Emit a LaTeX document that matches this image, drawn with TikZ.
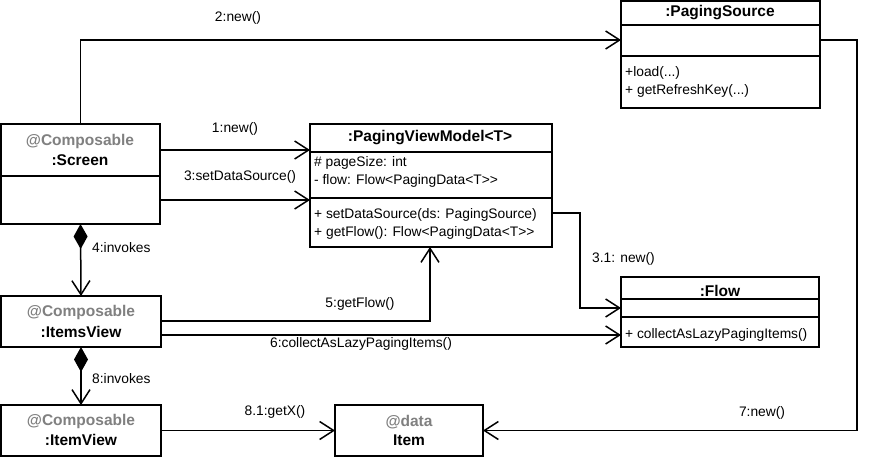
\documentclass[tikz,border=0pt]{standalone}
\usepackage{fontspec}
\setmainfont{Liberation Sans}
\usetikzlibrary{arrows.meta,calc}
\definecolor{stereo}{HTML}{808080}
% two closing angle brackets, kept apart so they are not merged into a guillemet
\newcommand{\gtgt}{>\kern0pt>}
\begin{document}
\begin{tikzpicture}[x=1pt,y=-1pt,
  box/.style={draw, line width=1.3pt, fill=white, inner sep=0pt, outer sep=0pt, anchor=north west},
  divider/.style={line width=1.3pt},
  title/.style={font=\fontsize{15.5}{17}\selectfont\bfseries, inner sep=0pt},
  stereotype/.style={title, text=stereo},
  member/.style={font=\fontsize{13.8}{16}\selectfont, inner sep=0pt, anchor=west},
  lbl/.style={font=\fontsize{13.8}{16}\selectfont, inner sep=0pt},
  conn/.style={line width=1.5pt, -{Straight Barb[length=14pt,width=18pt,line width=1.5pt]}},
  compose/.style={line width=1.5pt,
    {Diamond[length=25pt,width=14pt,fill=black]}-{Straight Barb[length=14pt,width=18pt,line width=1.5pt]}}
]
\useasboundingbox (0,0) rectangle (886,458);

% --- objects ---
\node[box, minimum width=159pt, minimum height=100pt] (screen) at (1,124) {};
\draw[divider] (1,176) -- (160,176);
\node[stereotype] (screenst) at (80,141) {@Composable};
\node[title] (screent) at (80,160) {:Screen};

\node[box, minimum width=242pt, minimum height=123pt] (pvm) at (310,124) {};
\draw[divider] (310,152) -- (552,152);
\draw[divider] (310,198) -- (552,198);
\node[title] (pvmt) at (430,138) {:PagingViewModel<T>};
\node[member] (pvm1) at (314,163) {\# pageSize: int};
\node[member] (pvm2) at (314,181) {- flow: Flow<PagingData<T\gtgt};
\node[member] (pvm3) at (314,215) {+ setDataSource(ds: PagingSource)};
\node[member] (pvm4) at (314,233) {+ getFlow(): Flow<PagingData<T\gtgt};

\node[box, minimum width=199pt, minimum height=107pt] (psrc) at (621,1) {};
\draw[divider] (621,25) -- (820,25);
\draw[divider] (621,56) -- (820,56);
\node[title] (psrct) at (720,13) {:PagingSource};
\node[member] (psrc1) at (625,73) {+load(...)};
\node[member] (psrc2) at (625,91) {+ getRefreshKey(...)};

\node[box, minimum width=198pt, minimum height=70pt] (flow) at (621,277) {};
\draw[divider] (621,299) -- (819,299);
\draw[divider] (621,317) -- (819,317);
\node[title] (flowt) at (720,291) {:Flow};
\node[member] (flow1) at (625,335) {+ collectAsLazyPagingItems()};

\node[box, minimum width=160pt, minimum height=51pt] (itemsv) at (1,296) {};
\node[stereotype] (itemsvst) at (81,312) {@Composable};
\node[title] (itemsvt) at (81,332) {:ItemsView};

\node[box, minimum width=160pt, minimum height=51pt] (itemv) at (1,405) {};
\node[stereotype] (itemvst) at (81,421) {@Composable};
\node[title] (itemvt) at (81,440) {:ItemView};

\node[box, minimum width=148pt, minimum height=51pt] (item) at (335,405) {};
\node[stereotype] (itemst) at (409,422) {@data};
\node[title] (itemt) at (409,440) {Item};

% --- messages ---
\draw[conn] (screen.north) |- ($(psrc.north west)+(0,39)$);
\node[lbl] at (238,18) {2:new()};

\draw[conn] ($(screen.north east)+(0,26)$) -- ($(pvm.north west)+(0,26)$);
\node[lbl] at (235,129) {1:new()};

\draw[conn] ($(screen.north east)+(0,76)$) -- ($(pvm.north west)+(0,76)$);
\node[lbl] at (240,177) {3:setDataSource()};

\draw[conn] ($(pvm.north east)+(0,89)$) -- ++(28,0) |- ($(flow.north west)+(0,31)$);
\node[lbl, anchor=west] at (592,259) {3.1: new()};

\draw[conn] ($(psrc.north east)+(0,39)$) -- ++(37,0) |- (item.east);
\node[lbl] at (762,413) {7:new()};

\draw[compose] (screen.south) -- (itemsv.north);
\node[lbl, anchor=west] at (92,248) {4:invokes};

\draw[conn] ($(itemsv.north east)+(0,25)$) -| ($(pvm.south west)+(120,0)$);
\node[lbl] at (360,304) {5:getFlow()};

\draw[conn] ($(itemsv.north east)+(0,39)$) -- ($(flow.north west)+(0,58)$);
\node[lbl] at (361,344) {6:collectAsLazyPagingItems()};

\draw[compose] (itemsv.south) -- (itemv.north);
\node[lbl, anchor=west] at (92,379) {8:invokes};

\draw[conn] (itemv.east) -- (item.west);
\node[lbl] at (275,412) {8.1:getX()};
\end{tikzpicture}
\end{document}
